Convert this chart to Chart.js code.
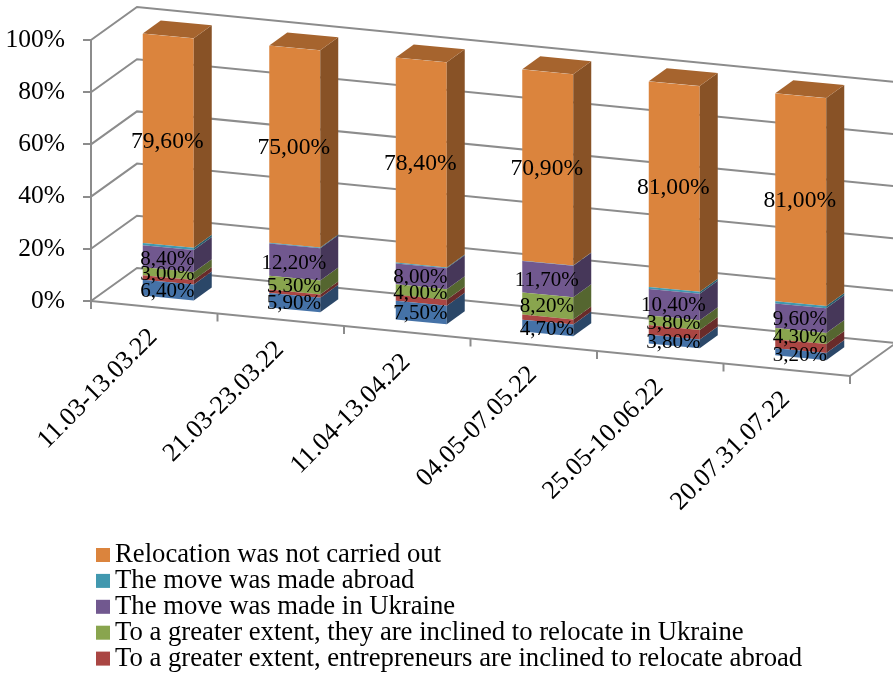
<!DOCTYPE html>
<html>
<head>
<meta charset="utf-8">
<style>
  body { margin: 0; background: #fff; }
  canvas { display: block; }
</style>
<script src="https://cdn.jsdelivr.net/npm/chart.js@4"></script>
</head>
<body>
<canvas id="chart" width="893" height="673"></canvas>
<script>
const categories = ['11.03-13.03.22', '21.03-23.03.22', '11.04-13.04.22', '04.05-07.05.22', '25.05-10.06.22', '20.07.31.07.22']

// values as printed on the chart, red and teal are estimated (no label there)
const blueValues = [6.4, 5.9, 7.5, 4.7, 3.8, 3.2]
const redValues = [1.7, 1.3, 2.3, 1.9, 3.8, 3.5]
const greenValues = [3.0, 5.3, 4.0, 8.2, 3.8, 4.3]
const purpleValues = [8.4, 12.2, 8.0, 11.7, 10.4, 9.6]
const tealValues = [0.9, 0.3, 0.3, 0.1, 0.8, 0.9]
const orangeValues = [79.6, 75.0, 78.4, 70.9, 81.0, 81.0]

const yTicks = [0, 20, 40, 60, 80, 100]

const series = [
  { label: '', values: blueValues, color: '#4572A7', printed: true },
  { label: 'To a greater extent, entrepreneurs are inclined to relocate abroad', values: redValues, color: '#AA4643', printed: false },
  { label: 'To a greater extent, they are inclined to relocate in Ukraine', values: greenValues, color: '#89A54E', printed: true },
  { label: 'The move was made in Ukraine', values: purpleValues, color: '#71588F', printed: true },
  { label: 'The move was made abroad', values: tealValues, color: '#4198AF', printed: false },
  { label: 'Relocation was not carried out', values: orangeValues, color: '#DB843D', printed: true },
]

const FONT = '"Liberation Serif", serif'
const GRID = '#8c8c8c'

// oblique look of the 3d chart
const SLOPE = 0.0988
const BAR_SLOPE = 0.0945
const WALL_X = 46, WALL_Y = -33
const BAR_X = 14, BAR_Y = -8, BAR_SCALE = 1.008
const DEPTH_X = 18, DEPTH_Y = -13

// the original is a 100% stacked chart, each column is scaled to its own sum
const share = (values, i) => {
  const sum = series.reduce((acc, s) => acc + s.values[i], 0)
  return values[i] / sum * 100
}

const shade = (hex, f) => {
  const n = parseInt(hex.slice(1), 16)
  const r = Math.round((n >> 16) * f)
  const g = Math.round(((n >> 8) & 255) * f)
  const b = Math.round((n & 255) * f)
  return `rgb(${r}, ${g}, ${b})`
}

const poly = (ctx, pts, fill) => {
  ctx.beginPath()
  pts.forEach((p, i) => i ? ctx.lineTo(p[0], p[1]) : ctx.moveTo(p[0], p[1]))
  ctx.closePath()
  ctx.fillStyle = fill
  ctx.fill()
}

// point on the front plane of the chart
const front = (chart, x, y) => [x, y + SLOPE * (x - chart.chartArea.left)]

// point on the front plane of the bars
const barPoint = (chart, x, y) => {
  const { left, bottom } = chart.chartArea
  return [x + BAR_X, bottom + (y - bottom) * BAR_SCALE + BAR_SLOPE * (x - left) + BAR_Y]
}

const depthChart = {
  id: 'depthChart',
  beforeDatasetsDraw(chart) {
    const { ctx, chartArea, scales } = chart
    const { left, right, bottom } = chartArea
    ctx.save()
    ctx.strokeStyle = GRID
    ctx.lineWidth = 2

    // left wall and back wall lines
    yTicks.forEach((v) => {
      const y = scales.y.getPixelForValue(v)
      const end = front(chart, right, y)
      ctx.beginPath()
      ctx.moveTo(left, y)
      ctx.lineTo(left + WALL_X, y + WALL_Y)
      ctx.lineTo(end[0] + WALL_X, end[1] + WALL_Y)
      ctx.stroke()
    })

    // floor
    const a = front(chart, left, bottom)
    const b = front(chart, right, bottom)
    ctx.beginPath()
    ctx.moveTo(a[0], a[1])
    ctx.lineTo(b[0], b[1])
    ctx.lineTo(b[0] + WALL_X, b[1] + WALL_Y)
    ctx.stroke()

    // category ticks under the floor edge
    const step = (right - left) / categories.length
    for (let i = 0; i <= categories.length; i++) {
      const p = front(chart, left + i * step, bottom)
      ctx.beginPath()
      ctx.moveTo(p[0], p[1])
      ctx.lineTo(p[0], p[1] + 8)
      ctx.stroke()
    }
    ctx.restore()

    // bars get nearly the same slant as the floor
    ctx.save()
    ctx.transform(1, BAR_SLOPE, 0, BAR_SCALE, BAR_X, bottom - bottom * BAR_SCALE - BAR_SLOPE * left + BAR_Y)
  },
  afterDatasetsDraw(chart) {
    const { ctx, scales, chartArea } = chart
    ctx.restore()

    // sides and top of the bars
    series.forEach((s, d) => {
      chart.getDatasetMeta(d).data.forEach((bar) => {
        const xl = bar.x - bar.width / 2
        const xr = bar.x + bar.width / 2
        const top = barPoint(chart, xr, bar.y)
        const low = barPoint(chart, xr, bar.base)
        poly(ctx, [top, low, [low[0] + DEPTH_X, low[1] + DEPTH_Y], [top[0] + DEPTH_X, top[1] + DEPTH_Y]], shade(s.color, 0.62))
        if (d === series.length - 1) {
          const tl = barPoint(chart, xl, bar.y)
          poly(ctx, [tl, top, [top[0] + DEPTH_X, top[1] + DEPTH_Y], [tl[0] + DEPTH_X, tl[1] + DEPTH_Y]], shade(s.color, 0.76))
        }
      })
    })

    ctx.save()
    ctx.fillStyle = '#000'
    ctx.textAlign = 'center'
    ctx.textBaseline = 'middle'

    // value labels
    series.forEach((s, d) => {
      if (!s.printed) return
      ctx.font = `${d === series.length - 1 ? 23.6 : 21}px ${FONT}`
      chart.getDatasetMeta(d).data.forEach((bar, i) => {
        const p = barPoint(chart, bar.x, (bar.y + bar.base) / 2)
        ctx.fillText(s.values[i].toFixed(2).replace('.', ',') + '%', p[0] - 1, p[1] + 1)
      })
    })

    // category labels follow the floor edge
    ctx.font = `26px ${FONT}`
    ctx.textAlign = 'right'
    categories.forEach((c, i) => {
      const p = front(chart, scales.x.getPixelForTick(i), chartArea.bottom)
      ctx.save()
      ctx.translate(p[0] - 1, p[1] + 26)
      ctx.rotate(-Math.PI / 4)
      ctx.fillText(c, 0, 0)
      ctx.restore()
    })

    // legend, the blue entry is cut off in the original
    ctx.textAlign = 'left'
    ctx.font = `26.7px ${FONT}`
    const rows = series.filter((s) => s.label).reverse()
    rows.forEach((s, i) => {
      const y = 555 + i * 25.9
      ctx.fillStyle = s.color
      ctx.fillRect(96, y - 7, 14, 14)
      ctx.fillStyle = '#000'
      ctx.fillText(s.label, 115, y)
    })
    ctx.restore()
  },
}

new Chart(document.getElementById('chart'), {
  type: 'bar',
  data: {
    labels: categories,
    datasets: series.map((s) => ({
      label: s.label,
      data: categories.map((c, i) => share(s.values, i)),
      backgroundColor: s.color,
      borderWidth: 0,
      categoryPercentage: 1,
      barPercentage: 0.403,
    })),
  },
  options: {
    responsive: false,
    animation: false,
    layout: { padding: { top: 40, bottom: 372, left: 0, right: 43 } },
    plugins: { legend: { display: false }, tooltip: { enabled: false } },
    scales: {
      x: { stacked: true, display: false },
      y: {
        stacked: true,
        min: 0,
        max: 100,
        afterFit(scale) { scale.width = 91 },
        afterBuildTicks(scale) { scale.ticks = yTicks.map((v) => ({ value: v })) },
        grid: { drawOnChartArea: false, tickLength: 8, tickColor: GRID, lineWidth: 2 },
        border: { color: GRID, width: 2 },
        ticks: {
          color: '#000',
          padding: 18,
          font: { family: FONT, size: 25.5 },
          callback: (v) => v + '%',
        },
      },
    },
  },
  plugins: [depthChart],
})
</script>
</body>
</html>
